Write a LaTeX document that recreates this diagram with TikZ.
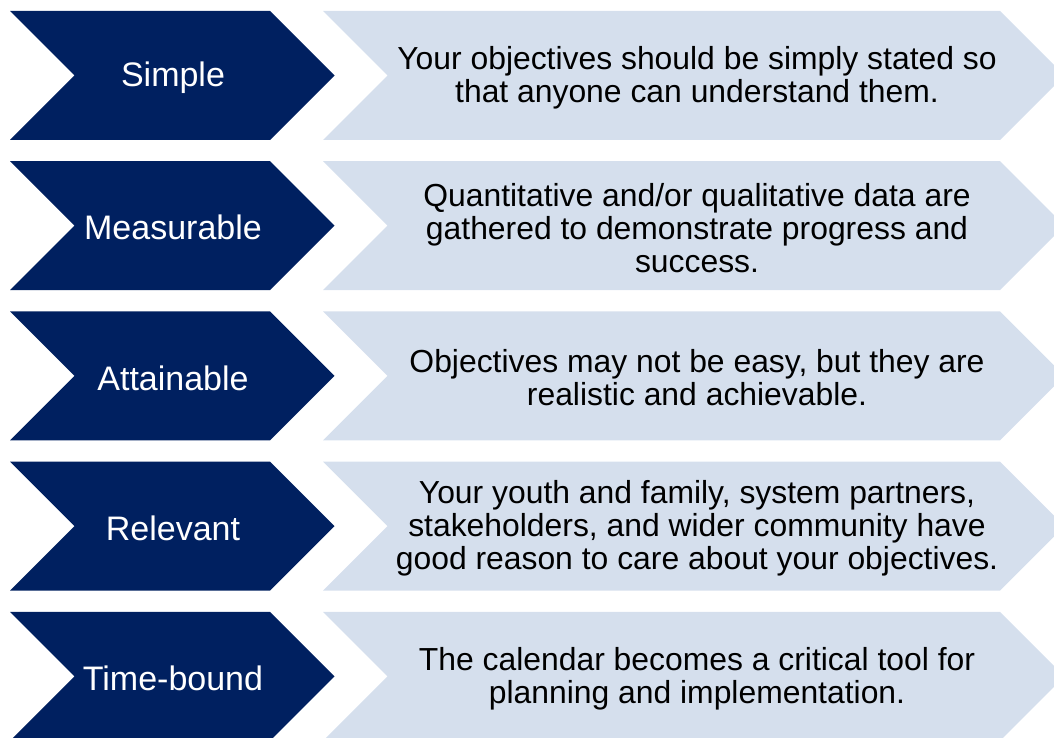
\documentclass[tikz,border=0pt]{standalone}
\usepackage{fontspec}
\setmainfont{Liberation Sans}
\usetikzlibrary{positioning}
\definecolor{navyband}{RGB}{0,32,96}
\definecolor{paleband}{RGB}{213,223,237}

\begin{document}
\begin{tikzpicture}[x=0.75pt,y=-0.75pt,
  keyword/.style={text=white,align=center,font=\fontsize{25.5}{30}\selectfont},
  detail/.style={text=black,align=center,font=\fontsize{23.9}{24.75}\selectfont}]
\useasboundingbox (0,0) rectangle (1054,738);
\clip (0,0) rectangle (1054,738);

% chevron bands, one row every 150px
\foreach \y in {11,161.2,311.4,461.6,611.8} {
  \fill[paleband] (323,\y) -- ++(677,0) -- ++(64.5,64.5) -- ++(-64.5,64.5)
    -- ++(-677,0) -- ++(64.5,-64.5) -- cycle;
  \fill[navyband] (10,\y) -- ++(260,0) -- ++(64.5,64.5) -- ++(-64.5,64.5)
    -- ++(-260,0) -- ++(64.5,-64.5) -- cycle;
}

% Simple
\node[keyword] (simple) at (173,77.5) {Simple};
\node[detail] (simpletxt) at (697,77.5)
  {Your objectives should be simply stated so\\that anyone can understand them.};

% Measurable
\node[keyword] (measurable) at (173,227.7) {Measurable};
\node[detail] (measurabletxt) at (697,227.7)
  {Quantitative and/or qualitative data are\\gathered to demonstrate progress and\\success.};

% Attainable
\node[keyword] (attainable) at (173,377.9) {Attainable};
\node[detail] (attainabletxt) at (697,377.9)
  {Objectives may not be easy, but they are\\realistic and achievable.};

% Relevant
\node[keyword] (relevant) at (173,528.1) {Relevant};
\node[detail] (relevanttxt) at (697,528.1)
  {Your youth and family, system partners,\\stakeholders, and wider community have\\good reason to care about your objectives.};

% Time-bound
\node[keyword] (timebound) at (173,678.3) {Time-bound};
\node[detail] (timeboundtxt) at (697,678.3)
  {The calendar becomes a critical tool for\\planning and implementation.};
\end{tikzpicture}
\end{document}
